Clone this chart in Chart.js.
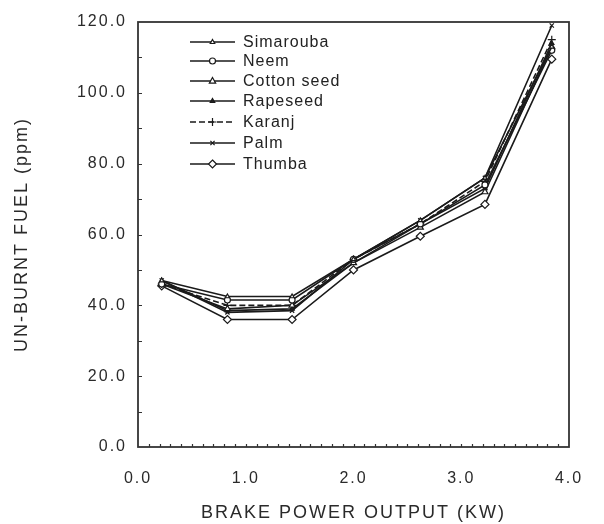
<!DOCTYPE html>
<html>
<head>
<meta charset="utf-8">
<script src="https://cdn.jsdelivr.net/npm/chart.js@4"></script>
<style>
html,body{margin:0;padding:0;background:#fff;}
#wrap{width:604px;height:524px;position:relative;}
</style>
</head>
<body>
<div id="wrap"><canvas id="c" width="604" height="524"></canvas></div>
<script>
const xValues = [0.22, 0.83, 1.43, 2.0, 2.62, 3.22, 3.84];
const simarouba = [47, 42.5, 42.5, 53, 64, 76, 113];
const neem = [46, 41.5, 41.5, 53, 63, 74, 112];
const cottonseed = [46, 39, 40, 52, 62, 72, 113];
const rapeseed = [47, 38.5, 39, 52, 63, 73, 114];
const karanj = [46, 40, 40, 53, 63, 75, 115];
const palm = [47, 38, 38.5, 53, 64, 76, 119];
const thumba = [45.5, 36, 36, 50, 59.5, 68.5, 109.5];
const seriesNames = ["Simarouba", "Neem", "Cotton seed", "Rapeseed", "Karanj", "Palm", "Thumba"];
const xTicks = [0, 1, 2, 3, 4];
const yTicks = [0, 20, 40, 60, 80, 100, 120];
const xTitle = "BRAKE POWER OUTPUT (KW)";
const yTitle = "UN-BURNT FUEL (ppm)";

const seriesValues = [simarouba, neem, cottonseed, rapeseed, karanj, palm, thumba];
const styles = [
  {ps:'triangle', r:2.5, fill:'#fff', dash:[]},
  {ps:'circle', r:3, fill:'#fff', dash:[]},
  {ps:'triangle', r:3.5, fill:'#fff', dash:[]},
  {ps:'triangle', r:2.5, fill:'#222', dash:[]},
  {ps:'cross', r:4, fill:'#222', dash:[6,3]},
  {ps:'crossRot', r:3, fill:'#222', dash:[]},
  {ps:'rectRot', r:4, fill:'#fff', dash:[]}
];
const FONT = '"Liberation Sans", Arial, sans-serif';

const datasets = seriesNames.map((n,i)=>({
  label: n,
  data: xValues.map((x,j)=>({x:x, y:seriesValues[i][j]})),
  borderColor:'#1a1a1a',
  backgroundColor: styles[i].fill,
  borderWidth:1.6,
  borderDash: styles[i].dash,
  pointStyle: styles[i].ps,
  pointRadius: styles[i].r,
  pointBorderWidth:1.2,
  pointBorderColor:'#1a1a1a',
  pointBackgroundColor: styles[i].fill,
  tension:0,
  fill:false
}));

function drawMarker(ctx, style, r, x, y, fill){
  ctx.save();
  ctx.strokeStyle='#1a1a1a'; ctx.fillStyle=fill; ctx.lineWidth=1.2; ctx.setLineDash([]);
  ctx.beginPath();
  if(style==='circle'){ ctx.arc(x,y,r,0,Math.PI*2); ctx.fill(); ctx.stroke(); }
  else if(style==='triangle'){ ctx.moveTo(x,y-r); ctx.lineTo(x+r*0.9,y+r*0.6); ctx.lineTo(x-r*0.9,y+r*0.6); ctx.closePath(); ctx.fill(); ctx.stroke(); }
  else if(style==='rectRot'){ ctx.moveTo(x,y-r); ctx.lineTo(x+r,y); ctx.lineTo(x,y+r); ctx.lineTo(x-r,y); ctx.closePath(); ctx.fill(); ctx.stroke(); }
  else if(style==='cross'){ ctx.moveTo(x,y-r); ctx.lineTo(x,y+r); ctx.moveTo(x-r,y); ctx.lineTo(x+r,y); ctx.stroke(); }
  else if(style==='crossRot'){ const d=r*0.7; ctx.moveTo(x-d,y-d); ctx.lineTo(x+d,y+d); ctx.moveTo(x+d,y-d); ctx.lineTo(x-d,y+d); ctx.stroke(); }
  ctx.restore();
}

const framePlugin = {
  id:'frame',
  beforeDraw(chart){
    chart.ctx.letterSpacing = '2px';
  },
  afterDraw(chart){
    const ctx = chart.ctx, a = chart.chartArea;
    const xs = chart.scales.x, ys = chart.scales.y;
    ctx.save();
    ctx.strokeStyle='#333'; ctx.lineWidth=1.8;
    ctx.strokeRect(a.left, a.top, a.right-a.left, a.bottom-a.top);
    ctx.lineWidth=1.2;
    ctx.beginPath();
    for(let v=10; v<120; v+=10){
      const py = Math.round(ys.getPixelForValue(v))+0.5;
      ctx.moveTo(a.left, py); ctx.lineTo(a.left+4, py);
    }
    for(let k=1; k<40; k++){
      const px = Math.round(xs.getPixelForValue(k/10))+0.5;
      ctx.moveTo(px, a.bottom); ctx.lineTo(px, a.bottom-3);
    }
    ctx.stroke();
    // legend
    const lx0 = 190, lx1 = 235, tx = 243;
    const rows = [42, 61, 81, 101, 122, 143, 164];
    ctx.font = '16px ' + FONT;
    ctx.letterSpacing = '1px';
    ctx.textBaseline='middle'; ctx.textAlign='left';
    seriesNames.forEach((t,i)=>{
      const y = rows[i];
      ctx.strokeStyle='#1a1a1a'; ctx.lineWidth=1.5; ctx.setLineDash(styles[i].dash);
      ctx.beginPath(); ctx.moveTo(lx0,y); ctx.lineTo(lx1,y); ctx.stroke();
      ctx.setLineDash([]);
      drawMarker(ctx, styles[i].ps, styles[i].r, (lx0+lx1)/2, y, styles[i].fill);
      ctx.fillStyle='#222';
      ctx.fillText(t, tx, y+1);
    });
    ctx.restore();
  }
};

new Chart(document.getElementById('c'), {
  type:'line',
  data:{datasets},
  options:{
    responsive:false,
    animation:false,
    devicePixelRatio:1,
    layout:{padding:{left:0, top:22, right:35, bottom:0}},
    plugins:{legend:{display:false}, tooltip:{enabled:false}},
    scales:{
      x:{
        type:'linear', min:0, max:4,
        afterBuildTicks(s){ s.ticks = xTicks.map(v=>({value:v})); },
        afterFit(s){ s.height = 77; },
        grid:{display:false, drawTicks:false},
        border:{display:false},
        ticks:{padding:22, color:'#2a2a2a', font:{family:FONT, size:16}, callback:v=>Number(v).toFixed(1)},
        title:{display:true, text:xTitle, color:'#2a2a2a', padding:{top:0,bottom:0}, font:{family:FONT, size:18}}
      },
      y:{
        type:'linear', min:0, max:120,
        afterBuildTicks(s){ s.ticks = yTicks.map(v=>({value:v})); },
        afterFit(s){ s.width = 138; },
        grid:{display:false, drawTicks:false},
        border:{display:false},
        ticks:{padding:11, color:'#2a2a2a', font:{family:FONT, size:16}, callback:v=>Number(v).toFixed(1)},
        title:{display:true, text:yTitle, color:'#2a2a2a', padding:{top:11,bottom:0}, font:{family:FONT, size:18}}
      }
    }
  },
  plugins:[framePlugin]
});
</script>
</body>
</html>
